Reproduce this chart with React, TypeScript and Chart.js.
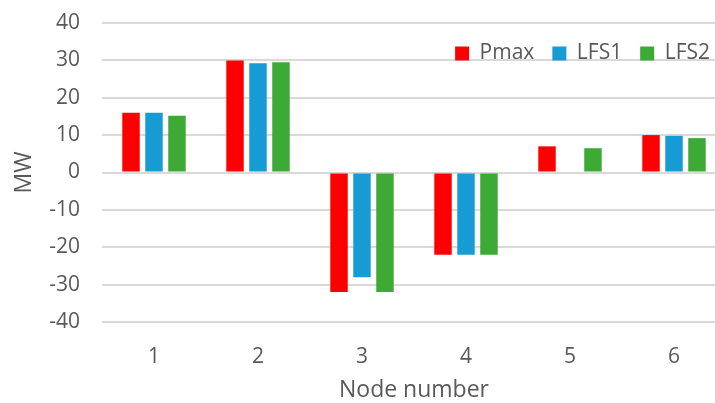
import React, { useEffect, useRef } from "react";
import { Chart, registerables } from "chart.js";

Chart.register(...registerables);

// Power at each node (MW)
const nodes = ["1", "2", "3", "4", "5", "6"];
const pmax = [16, 30, -32, -22, 7, 10];
const lfs1 = [16, 29.2, -28, -22, 0, 9.8];
const lfs2 = [15.2, 29.5, -32, -22, 6.5, 9.2];
const yTicks = [-40, -30, -20, -10, 0, 10, 20, 30, 40];

const TEXT = "#595959";
const FONT = "'Open Sans', 'Noto Sans', sans-serif";

// The legend reserves almost no layout space; after layout it is moved
// down so it sits inside the top of the plot area.
const legendInside = {
  id: "legendInside",
  afterLayout(chart: any) {
    const lg = chart.legend;
    if (!lg) return;
    lg.top = chart.chartArea.top + 2;
    lg.height = 50;
    lg.bottom = lg.top + lg.height;
    lg.right = chart.chartArea.right + 2;
  },
};

export default function App() {
  const ref = useRef<HTMLCanvasElement | null>(null);

  useEffect(() => {
    if (!ref.current) return;
    const chart = new Chart(ref.current, {
      type: "bar",
      data: {
        labels: nodes,
        datasets: [
          { label: "Pmax", data: pmax, backgroundColor: "#FF0000" },
          { label: "LFS1", data: lfs1, backgroundColor: "#169BD5" },
          { label: "LFS2", data: lfs2, backgroundColor: "#3DAA35" },
        ],
      },
      plugins: [legendInside],
      options: {
        animation: false,
        responsive: false,
        maintainAspectRatio: false,
        layout: { padding: { top: 22, left: 0, right: 0, bottom: 0 } },
        datasets: {
          bar: { categoryPercentage: 0.663, barPercentage: 0.76 },
        },
        plugins: {
          tooltip: { enabled: false },
          legend: {
            position: "top",
            align: "end",
            maxHeight: 1,
            labels: {
              boxWidth: 14,
              boxHeight: 14,
              padding: 18,
              color: TEXT,
              font: { family: FONT, size: 21 },
            },
          },
        },
        scales: {
          x: {
            grid: { display: false, drawTicks: false },
            border: { display: false },
            ticks: { color: TEXT, font: { family: FONT, size: 21 }, padding: 22 },
            title: {
              display: true,
              text: "Node number",
              color: TEXT,
              font: { family: FONT, size: 23 },
              padding: { top: 0, bottom: -1.5 },
            },
            afterFit: (s: any) => {
              s.height = 81;
            },
          },
          y: {
            min: -40,
            max: 40,
            afterBuildTicks: (s: any) => {
              s.ticks = yTicks.map((v) => ({ value: v }));
            },
            grid: { color: "#D9D9D9", lineWidth: 2, drawTicks: false },
            border: { display: false },
            ticks: { color: TEXT, font: { family: FONT, size: 21 }, padding: 22 },
            title: {
              display: true,
              text: "MW",
              color: TEXT,
              font: { family: FONT, size: 23 },
              padding: { top: 11, bottom: 0 },
            },
            afterFit: (s: any) => {
              s.width = 102;
              s.paddingTop = 0;
              s.paddingBottom = 0;
            },
          },
        },
      },
    });
    return () => chart.destroy();
  }, []);

  return (
    <div
      style={{
        position: "fixed",
        left: 0,
        top: 0,
        width: 715,
        height: 403,
        overflow: "hidden",
        background: "#fff",
      }}
    >
      <canvas ref={ref} width={726} height={403} style={{ display: "block" }} />
    </div>
  );
}
